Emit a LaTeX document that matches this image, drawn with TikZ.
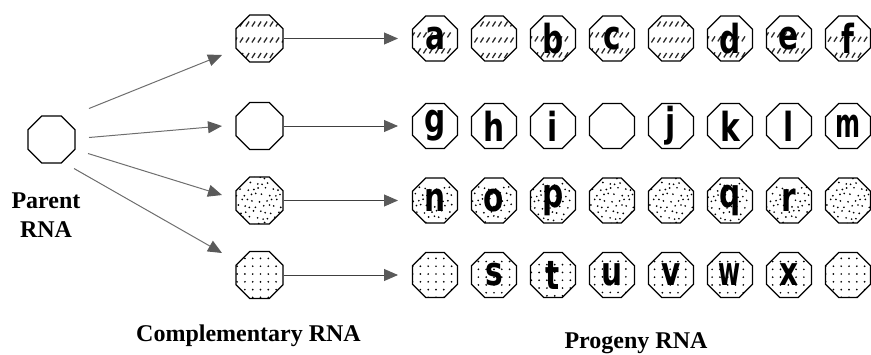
\documentclass[tikz,border=0pt]{standalone}
\usepackage{fontspec}
\setmainfont{Liberation Serif}
\newfontfamily\lettersf{DejaVu Sans}
\usetikzlibrary{shapes.geometric,arrows.meta}
\definecolor{linegray}{HTML}{6E6E6E}
\definecolor{headgray}{HTML}{5A5A5A}
\definecolor{hatchgray}{HTML}{2A2A2A}
\newcommand\rnaL[1]{\scalebox{0.74}[1]{#1}}
\newcommand\rnaN[1]{\scalebox{0.6}[1]{#1}}
\tikzset{
  oct/.style={regular polygon, regular polygon sides=8, draw=black, line width=1.2pt,
    inner sep=-9pt, minimum size=48.7pt, fill=white,
    font=\lettersf\bfseries\fontsize{40}{40}\selectfont},
  bigoct/.style={oct, minimum size=50.9pt},
  hatched/.style={path picture={
    \foreach \yy in {-14.5,1.5,17}{
      \foreach \xx in {-24,-18,...,24}{
        \draw[line width=1.3pt, hatchgray, shift={(path picture bounding box.center)}]
          (\xx-1.6,\yy+2.5) -- (\xx+1.6,\yy-2.5);
      }}}},
  densedots/.style={path picture={
    \foreach \j in {-4,...,4}{
      \foreach \i in {-4,...,4}{
        \pgfmathsetmacro\dx{\i*6.2+mod(\j+10,2)*3.1+1.4*sin(97*\i+53*\j)}
        \pgfmathsetmacro\dy{\j*5.8+1.3*cos(71*\i+113*\j)}
        \fill[black, shift={(path picture bounding box.center)}] (\dx,\dy) circle (0.95);
      }}}},
  sparsedots/.style={path picture={
    \foreach \j in {-3,...,3}{
      \foreach \i in {-3,...,3}{
        \fill[black, shift={(path picture bounding box.center)}] (\i*7.8+1,\j*7.8-1) circle (0.95);
      }}}},
  garrow/.style={draw=linegray, line width=1pt, -{Triangle[length=14pt,width=12pt,color=headgray]}},
  harrow/.style={draw=black!75, line width=0.9pt, -{Triangle[length=14pt,width=12pt,color=headgray]}},
  lab/.style={font=\bfseries\fontsize{24}{29}\selectfont, inner sep=0pt}
}
\begin{document}
\begin{tikzpicture}[x=1pt,y=-1pt]
\useasboundingbox (0,0) rectangle (871,354);
% parent
\node[bigoct] (parent) at (51.5,139.5) {};
\node[lab, align=center] (parentlab) at (46,215) {Parent\\RNA};
% complementary
\node[bigoct,hatched] (c1) at (259.5,38.5) {};
\node[bigoct] (c2) at (259.5,126) {};
\node[bigoct,densedots] (c3) at (259.5,200.5) {};
\node[bigoct,sparsedots] (c4) at (259.5,275) {};
% arrows parent -> complementary
\coordinate (s1) at (89,108.5);  \coordinate (e1) at (222,55);
\coordinate (s2) at (89,137.5);  \coordinate (e2) at (222,126);
\coordinate (s3) at (88,153.5);  \coordinate (e3) at (222,195);
\coordinate (s4) at (74,168.5);  \coordinate (e4) at (222,253);
\draw[garrow] (s1) -- (e1);
\draw[garrow] (s2) -- (e2);
\draw[garrow] (s3) -- (e3);
\draw[garrow] (s4) -- (e4);
% horizontal arrows
\coordinate (h1) at (398,38.5);
\coordinate (h2) at (398,126);
\coordinate (h3) at (398,200.5);
\coordinate (h4) at (398,275);
\draw[harrow] (c1.east) -- (h1);
\draw[harrow] (c2.east) -- (h2);
\draw[harrow] (c3.east) -- (h3);
\draw[harrow] (c4.east) -- (h4);
% progeny
\foreach \k/\ch in {0/\rnaL{a},1/,2/\rnaL{b},3/\rnaL{c},4/,5/\rnaL{d},6/\rnaL{e},7/\rnaL{f}}
  \node[oct,hatched] (p1\k) at (435+59*\k,38.5) {\ch};
\foreach \k/\ch in {0/\rnaL{g},1/\rnaL{h},2/\rnaL{i},3/,4/\rnaL{j},5/\rnaL{k},6/\rnaL{l},7/\rnaN{m}}
  \node[oct] (p2\k) at (435+59*\k,126) {\ch};
\foreach \k/\ch in {0/\rnaL{n},1/\rnaL{o},2/\rnaL{p},3/,4/,5/\rnaL{q},6/\rnaL{r},7/}
  \node[oct,densedots] (p3\k) at (435+59*\k,200.5) {\ch};
\foreach \k/\ch in {0/,1/\rnaL{s},2/\rnaL{t},3/\rnaL{u},4/\rnaL{v},5/\rnaN{w},6/\rnaL{x},7/}
  \node[oct,sparsedots] (p4\k) at (435+59*\k,275) {\ch};
% labels
\node[lab, anchor=base] (complab) at (248.5,341) {Complementary RNA};
\node[lab, anchor=base] (proglab) at (636,348) {Progeny RNA};
\end{tikzpicture}
\end{document}
